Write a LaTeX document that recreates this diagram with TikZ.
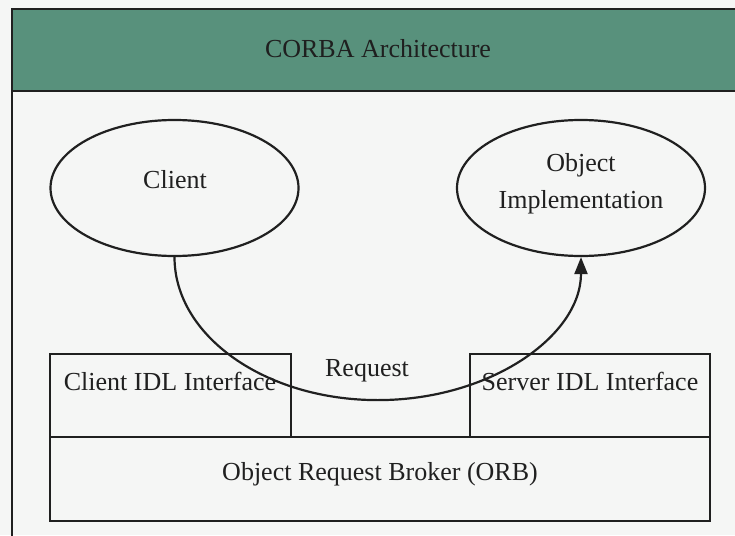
\documentclass[tikz,border=0pt]{standalone}
\usepackage{fontspec}
\setmainfont{Liberation Serif}
\usetikzlibrary{shapes.geometric,arrows.meta}
\definecolor{bandgreen}{RGB}{88,145,124}
\definecolor{paper}{RGB}{245,246,245}
\definecolor{ink}{RGB}{32,32,32}
\tikzset{
  box/.style={draw=ink, line width=2.2pt, inner sep=0pt},
  oval/.style={ellipse, draw=ink, line width=2.2pt, inner sep=0pt,
    minimum width=248pt, minimum height=136pt},
  txt/.style={text=ink, inner sep=0pt, font=\fontsize{26}{37}\selectfont, align=center},
  flow/.style={draw=ink, line width=2.2pt, -{Triangle[length=17pt,width=13pt]}}
}
\begin{document}
\begin{tikzpicture}[x=1pt,y=-1pt]
  \useasboundingbox (0,0) rectangle (735,535);
  \fill[paper] (0,0) rectangle (735,535);
  \clip (0,0) rectangle (735,535);

  % outer frame and title band
  \draw[ink, line width=2.6pt] (12,9) rectangle (760,560);
  \filldraw[fill=bandgreen, draw=ink, line width=2.6pt] (12,9) rectangle (760,91);
  \node[txt, text=black!88] (title) at (378,49) {CORBA Architecture};

  % client and server objects
  \node[oval] (cl) at (174.5,188) {};
  \node[txt] (cltxt) at (175,180) {Client};
  \node[oval] (oi) at (581,188) {};
  \node[txt] (oitxt) at (581,184) {Object\\Implementation};

  % IDL stubs and the broker
  \node[box, minimum width=241pt, minimum height=83pt] (cidl) at (170.5,395.5) {};
  \node[txt] (cidltxt) at (170,381) {Client IDL Interface};
  \node[box, minimum width=240pt, minimum height=83pt] (sidl) at (590,395.5) {};
  \node[txt] (sidltxt) at (590,381) {Server IDL Interface};
  \node[box, minimum width=660pt, minimum height=84pt] (orb) at (380,479) {};
  \node[txt] (orbtxt) at (380,474) {Object Request Broker (ORB)};

  % request path: half ellipse from the client down under the stubs and up
  \draw[flow] (cl.south) arc[start angle=180, end angle=360,
    x radius=203.25pt, y radius=143pt];
  \node[txt] (req) at (367,371) {Request};
\end{tikzpicture}
\end{document}
